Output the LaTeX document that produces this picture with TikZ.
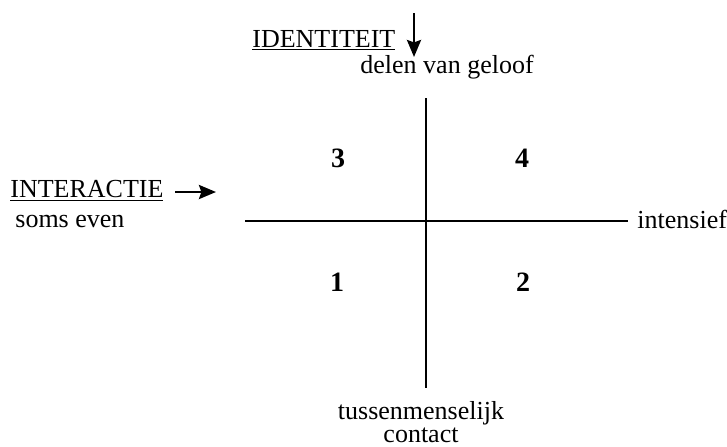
\documentclass[tikz,border=0pt]{standalone}
\usepackage{fontspec}
\setmainfont{Liberation Serif}
\usetikzlibrary{calc}
\usetikzlibrary{arrows.meta}

\tikzset{
  lbl/.style={anchor=base west, inner sep=0pt, font=\fontsize{13}{15}\selectfont},
  quad/.style={anchor=base, inner sep=0pt, font=\fontsize{14}{16}\selectfont\bfseries},
  axis/.style={black, line width=1.3pt},
  pointer/.style={black, line width=1.3pt, -{Stealth[length=8.5pt,width=7pt,inset=1.2pt]}}
}

\begin{document}
\begin{tikzpicture}[x=0.5pt,y=-0.5pt]
\useasboundingbox (0,0) rectangle (727,446);
% assen
\coordinate (top) at (426,98);
\coordinate (bottom) at (426,388);
\coordinate (left) at (245,221);
\coordinate (right) at (628,221);
\draw[axis] (top)--(bottom);
\draw[axis] (left)--(right);
\node[lbl] (intensief) at (637,228) {intensief};
\node[lbl,anchor=base,align=center,font=\fontsize{13}{11.5}\selectfont] (contact) at (421,442)
  {tussenmenselijk\\contact};
% kwadranten
\foreach \n/\x/\y in {3/338/167, 4/522/167, 1/337/291, 2/523/291} {
 \node[quad] (q\n) at (\x,\y) {\n};
}
% identiteit
\node[lbl] (identiteit) at (252,47) {\underline{IDENTITEIT}};
\node[lbl] (geloof) at (360,73) {delen van geloof};
\coordinate (idstart) at (414,13);
\coordinate (idend) at (414,57);
\draw[pointer] (idstart)--(idend);
% interactie
\node[lbl] (interactie) at (10,197) {\underline{INTERACTIE}};
\node[lbl] (soms) at (15,227) {soms even};
\coordinate (instart) at (175,192);
\coordinate (inend) at (216,192);
\draw[pointer] (instart)--(inend);
\end{tikzpicture}
\end{document}
